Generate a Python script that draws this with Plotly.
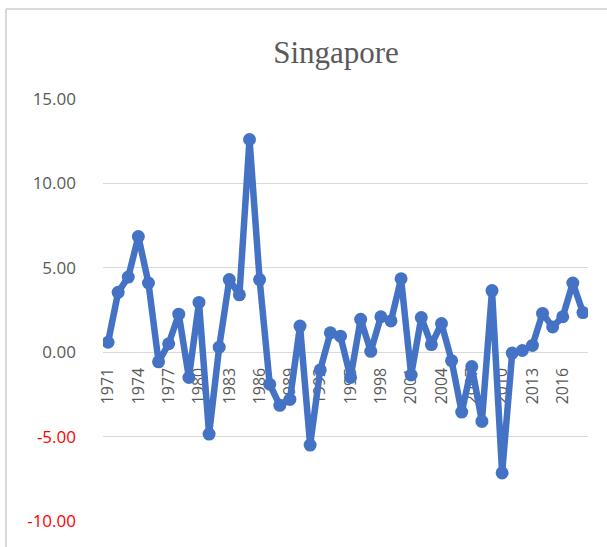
import plotly.graph_objects as go

# Singapore, yearly values
years = list(range(1971, 2019))
values = [0.59, 3.55, 4.45, 6.85, 4.10, -0.57, 0.50, 2.25, -1.50, 2.95,
          -4.85, 0.30, 4.30, 3.40, 12.60, 4.30, -1.90, -3.15, -2.80, 1.55,
          -5.50, -1.05, 1.15, 0.95, -1.50, 1.95, 0.05, 2.10, 1.85, 4.35,
          -1.35, 2.05, 0.45, 1.70, -0.50, -3.55, -0.85, -4.10, 3.65, -7.15,
          -0.05, 0.10, 0.40, 2.30, 1.50, 2.10, 4.10, 2.35]

x_ticks = list(range(1971, 2017, 3))
y_ticks = [-10, -5, 0, 5, 10, 15]
y_text = [f'<span style="color:#ff0000">{v:.2f}</span>' if v < 0 else f"{v:.2f}"
          for v in y_ticks]

W, H = 607, 547
ml, mr, mt, mb = 103, 19, 99, 26
pw, ph = W - ml - mr, H - mt - mb

fig = go.Figure()
fig.add_trace(go.Scatter(
    x=years, y=values, mode='lines+markers', name='Singapore',
    line=dict(color='#4472C4', width=6.5),
    marker=dict(color='#4472C4', size=13)
))

# chart frame (left and top edges visible)
def px_x(p):
    return (p - ml) / pw

def px_y(p):
    return (H - mb - p) / ph

fig.add_shape(type='line', xref='paper', yref='paper',
              x0=px_x(6), x1=px_x(6), y0=px_y(9), y1=px_y(560),
              line=dict(color='#d9d9d9', width=2))
fig.add_shape(type='line', xref='paper', yref='paper',
              x0=px_x(6), x1=px_x(620), y0=px_y(9), y1=px_y(9),
              line=dict(color='#d9d9d9', width=2))

font = "Segoe UI, Open Sans, sans-serif"
fig.update_layout(
    width=W, height=H,
    margin=dict(l=ml, r=mr, t=mt, b=mb),
    paper_bgcolor='white', plot_bgcolor='white',
    showlegend=False,
    title=dict(text='Singapore', x=336 / W, xref='container', xanchor='center',
               y=1 - 52 / H, yref='container', yanchor='middle',
               font=dict(family='Liberation Serif, Times New Roman, serif', size=31, color='#595959')),
    xaxis=dict(range=[1970.5, 2018.5], tickvals=x_ticks, tickangle=-90,
               anchor='free', position=0.4, showgrid=False, zeroline=False,
               showline=True, linecolor='#d9d9d9', linewidth=1.3,
               ticks='', ticklabelstandoff=8, layer='below traces',
               tickfont=dict(family=font, size=16, color='#595959')),
    yaxis=dict(range=[-10, 15], tickvals=y_ticks, ticktext=y_text,
               showgrid=True, gridcolor='#d9d9d9', gridwidth=1.3,
               zeroline=False, showline=False, ticks='', ticklabelstandoff=26,
               tickfont=dict(family=font, size=17, color='#595959')),
)

# page body margin would shift the figure by 8px
fig.write_html("out.html", config={'displayModeBar': False},
               post_script="document.body.style.margin='0';")
